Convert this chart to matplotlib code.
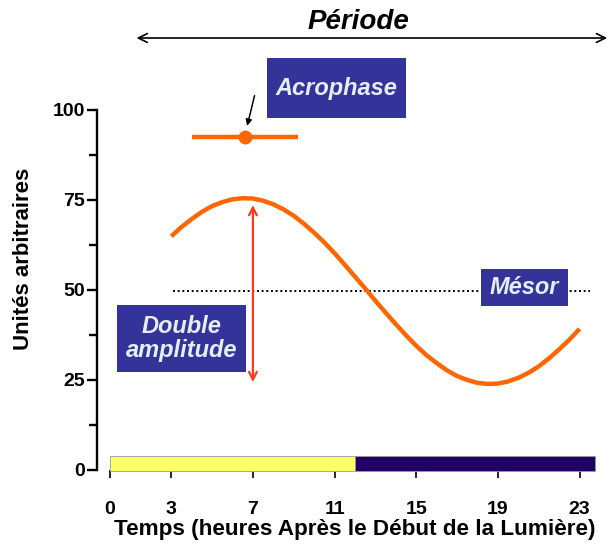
import matplotlib
matplotlib.use("Agg")
import matplotlib.pyplot as plt
from matplotlib.patches import Rectangle

plt.rcParams['font.family'] = ['Liberation Sans', 'DejaVu Sans']

# Rythme circadien : heures et valeurs (unités arbitraires) de la courbe
heures = [3.0, 3.5, 4.0, 4.5, 5.0, 5.5, 6.0, 6.5, 7.0, 7.5, 8.0, 8.5, 9.0, 9.5,
          10.0, 10.5, 11.0, 11.5, 12.0, 12.5, 13.0, 13.5, 14.0, 14.5, 15.0,
          15.5, 16.0, 16.5, 17.0, 17.5, 18.0, 18.5, 19.0, 19.5, 20.0, 20.5,
          21.0, 21.5, 22.0, 22.5, 23.0]
valeurs = [64.9, 67.5, 69.7, 71.7, 73.3, 74.4, 75.2, 75.5, 75.4, 74.8, 73.8,
           72.4, 70.6, 68.4, 65.9, 63.2, 60.2, 57.0, 53.7, 50.4, 47.0, 43.7,
           40.5, 37.4, 34.5, 31.9, 29.7, 27.7, 26.1, 25.0, 24.2, 23.9, 24.0,
           24.6, 25.6, 27.0, 28.8, 31.0, 33.5, 36.2, 39.2]

mesor = 49.7
acrophase = 6.6
pic = 75.5
creux = 23.9
acrophase_min, acrophase_max = 4.0, 9.2   # intervalle autour de l'acrophase
acrophase_y = 92.5

# Photopériode : lumière puis obscurité
phase_debut = [0.0, 12.0]
phase_fin = [12.0, 23.75]
phase_couleurs = ['#ffff66', '#200066']

xticks = [0, 3, 7, 11, 15, 19, 23]
yticks = [0, 25, 50, 75, 100]
yticks_minor = [12.5, 37.5, 62.5, 87.5]

ORANGE = '#ff6600'
ROUGE = '#ff3a1a'
BLEU = '#333399'
TEXTE_BOITE = '#e4eef6'

fig = plt.figure(figsize=(6.09, 5.46), dpi=100)
ax = fig.add_axes([110 / 609, 76 / 546, 490 / 609, 360 / 546])
ax.set_xlim(0, 24)
ax.set_ylim(0, 100)

# barre lumière / obscurité
for d, f, c in zip(phase_debut, phase_fin, phase_couleurs):
    ax.add_patch(Rectangle((d, -0.4), f - d, 4.4, facecolor=c,
                           edgecolor='#999999', linewidth=0.6, zorder=2,
                           clip_on=False))

# courbe sinusoïdale
ax.plot(heures, valeurs, color=ORANGE, lw=3.2, solid_capstyle='butt', zorder=3)

# mésor
ax.plot([3.1, 23.5], [mesor, mesor], color='black', lw=1.4,
        linestyle=(0, (1, 1.4)), zorder=2)

# double amplitude
ax.annotate('', xy=(7.0, creux + 0.5), xytext=(7.0, pic - 1.9),
            arrowprops=dict(arrowstyle='<->', color=ROUGE, lw=1.6,
                            shrinkA=0, shrinkB=0, mutation_scale=14))

# acrophase
ax.plot([acrophase_min, acrophase_max], [acrophase_y, acrophase_y],
        color=ORANGE, lw=3.2, solid_capstyle='butt', clip_on=False, zorder=3)
ax.plot([acrophase], [acrophase_y], 'o', color=ORANGE, ms=9, clip_on=False,
        zorder=4)
ax.annotate('', xy=(6.72, 95.6), xytext=(7.08, 104.0),
            arrowprops=dict(arrowstyle='-|>', color='black', lw=1.1,
                            shrinkA=0, shrinkB=0, mutation_scale=9),
            annotation_clip=False)

# flèche de la période
ax.annotate('', xy=(1.3, 120), xytext=(24.35, 120),
            arrowprops=dict(arrowstyle='<->', color='black', lw=1.2,
                            shrinkA=0, shrinkB=0, mutation_scale=16),
            annotation_clip=False)
ax.text(12.15, 124.4, 'Période', ha='center', va='center', fontsize=20,
        fontweight='bold', fontstyle='italic', clip_on=False)


def boite(x0, x1, y0, y1, texte):
    ax.add_patch(Rectangle((x0, y0), x1 - x0, y1 - y0, facecolor=BLEU,
                           edgecolor='none', clip_on=False, zorder=5))
    ax.text((x0 + x1) / 2, (y0 + y1) / 2, texte, ha='center', va='center',
            color=TEXTE_BOITE, fontsize=17, fontweight='bold',
            fontstyle='italic', linespacing=1.1, zorder=6, clip_on=False)


boite(7.69, 14.5, 97.8, 114.4, 'Acrophase')
boite(0.34, 6.66, 27.2, 45.8, 'Double\namplitude')
boite(18.17, 22.43, 45.6, 55.8, 'Mésor')

# axes
for s in ['top', 'right', 'bottom']:
    ax.spines[s].set_visible(False)
ax.spines['left'].set_position(('outward', 9.5))
ax.spines['left'].set_linewidth(1.7)

ax.set_yticks(yticks)
ax.set_yticks(yticks_minor, minor=True)
ax.set_xticks(xticks)
ax.tick_params(axis='y', which='major', length=7.5, width=1.7, pad=1,
               labelsize=14)
ax.tick_params(axis='y', which='minor', length=5.5, width=1.7)
ax.tick_params(axis='x', length=6, width=1.2, pad=16, labelsize=14)
for lab in ax.get_xticklabels() + ax.get_yticklabels():
    lab.set_fontweight('bold')

ax.set_xlabel('Temps (heures Après le Début de la Lumière)', fontsize=16.2,
              fontweight='bold')
ax.xaxis.set_label_coords(0.5, -0.137)
ax.set_ylabel('Unités arbitraires', fontsize=16, fontweight='bold')
ax.yaxis.set_label_coords(-0.155, 0.586)

fig.savefig('out.png', dpi=100)
